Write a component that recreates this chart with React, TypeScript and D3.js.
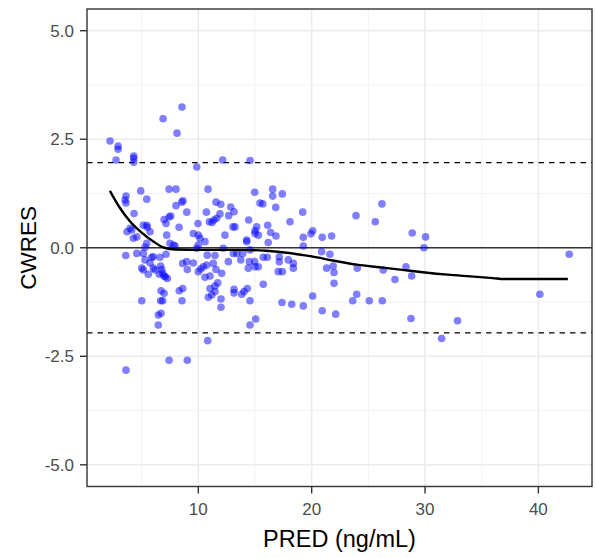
import React from "react";
import * as d3 from "d3";

// Observed data: PRED (ng/mL) and CWRES
const predValues: number[] = [
  2.21, 2.92, 2.92, 2.74, 4.30, 4.30, 4.30, 6.89, 8.56, 8.12, 9.86, 12.15, 14.56, 4.92, 7.42, 8.03, 10.86, 14.97,
  3.62, 3.54, 3.62, 5.45, 8.65, 8.54, 8.03, 8.98, 4.33, 11.56, 11.98, 12.86, 13.15, 10.71, 11.91, 11.62, 11.38,
  7.57, 7.42, 6.98, 9.97, 12.68, 14.44, 5.45, 5.50, 7.15, 10.97, 11.21, 8.30, 13.06, 15.15, 3.98, 15.44,
  3.71, 4.13, 5.15, 5.74, 7.21, 9.56, 10.0, 10.15, 10.59, 12.35, 13.24, 14.27, 14.27, 15.0, 4.27, 4.57, 5.45, 5.30,
  7.80, 7.95, 7.50, 10.0, 9.86, 12.20, 13.09, 3.60, 4.57, 5.15, 6.03, 6.62, 7.15, 5.30, 5.74, 5.89, 5.01, 5.15,
  5.59, 6.03, 6.18, 6.68, 6.77, 6.56, 6.86, 6.98, 7.27, 7.09, 8.62, 8.98, 9.03, 9.56, 10.0, 10.21, 10.44, 10.74,
  10.79, 11.47, 10.59, 11.03, 11.32, 11.56, 12.06, 12.65, 13.39, 13.74, 14.50, 14.97, 14.41, 15.0, 13.92,
  6.71, 6.98, 6.68, 6.86, 8.32, 8.62, 8.56, 11.03, 11.47, 11.47, 11.18, 10.88, 11.71, 12.0, 12.0, 13.15, 13.15,
  13.83, 14.03, 14.32, 14.56, 5.01, 6.47, 6.71, 6.47, 14.56, 15.06, 10.83, 7.42, 9.03, 3.62,
  16.56, 16.56, 17.41, 15.68, 16.83, 19.21, 18.09, 16.12, 15.0, 15.29, 16.38, 16.85, 20.09, 19.94, 19.26, 20.93,
  21.76, 23.91, 26.2, 25.61, 28.87, 16.17, 19.26, 14.56, 15.73, 16.08, 15.29, 17.14, 17.14, 17.94, 18.38, 18.38,
  17.05, 17.41, 20.88, 21.61, 21.32, 21.90, 21.97, 24.02, 26.31, 27.35, 28.32, 28.82, 15.73, 21.97, 17.38, 18.24,
  19.26, 20.09, 23.62, 23.97, 25.08, 26.23, 20.93, 22.12, 28.76, 30.05, 29.90, 42.72, 40.13, 32.87, 31.46,
];

const cwresValues: number[] = [
  2.46, 2.34, 2.27, 2.02, 2.11, 2.06, 1.97, 2.97, 3.24, 2.64, 1.86, 2.02, 2.01, 1.31, 1.35, 1.35, 1.35, 1.28,
  1.19, 1.10, 1.03, 1.12, 1.08, 1.05, 0.97, 0.82, 0.79, 1.05, 1.00, 0.94, 0.83, 0.82, 0.78, 0.68, 0.64,
  0.73, 0.71, 0.65, 0.56, 0.74, 0.64, 0.52, 0.47, 0.56, 0.60, 0.58, 0.47, 0.48, 0.48, 0.45, 1.03,
  0.37, 0.41, 0.52, 0.37, 0.29, 0.33, 0.29, 0.22, 0.14, 0.29, 0.48, 0.18, 0.14, 0.33, 0.22, 0.25, 0.10, 0.01,
  0.06, 0.04, 0.10, 0.06, -0.01, -0.01, -0.13, -0.18, -0.13, -0.13, -0.21, -0.22, -0.15, -0.28, -0.35, -0.22, -0.47, -0.51,
  -0.61, -0.47, -0.51, -0.42, -0.50, -0.61, -0.59, -0.65, -0.71, -0.67, -0.36, -0.32, -0.50, -0.35, -0.55, -0.49, -0.44, -0.40,
  -0.17, -0.18, -0.68, -0.65, -0.36, -0.50, -0.59, -0.32, -0.13, -0.28, -0.32, -0.32, -0.47, -0.44, -0.13,
  -0.99, -1.05, -1.22, -1.22, -0.99, -0.94, -1.22, -0.94, -0.88, -1.01, -1.09, -1.14, -0.81, -1.18, -1.37, -0.96, -1.04,
  -1.07, -1.01, -0.94, -1.22, -1.22, -1.55, -1.51, -1.78, -1.78, -1.64, -2.14, -2.59, -2.59, -2.82,
  1.35, 1.19, 1.24, 1.01, 0.93, 0.82, 0.60, 0.52, 0.39, 0.29, 0.35, 0.27, 0.39, 0.32, 0.24, 0.24,
  0.27, 0.74, 1.01, 0.60, 0.34, 0.12, 0.04, -0.05, -0.22, -0.22, -0.44, -0.21, -0.32, -0.28, -0.36, -0.47,
  -0.55, -0.55, -0.09, -0.15, -0.47, -0.42, -0.57, -0.47, -0.51, -0.73, -0.44, -0.65, -0.84, -0.82, -1.26, -1.30,
  -1.34, -1.11, -1.22, -1.07, -1.22, -1.22, -1.45, -1.53, -1.63, 0.25, 0.0, -0.15, -1.07, -1.68, -2.09,
];

// Smoother (loess trend)
const smoothX: number[] = [2.2, 3.0, 4.0, 5.0, 6.0, 7.0, 8.0, 10, 12, 14, 16, 18, 20, 22, 24, 26, 28, 30, 32, 34, 36, 37, 38, 40, 42.6];
const smoothY: number[] = [1.31, 0.95, 0.6, 0.35, 0.15, 0.0, -0.04, -0.05, -0.05, -0.05, -0.07, -0.12, -0.2, -0.3, -0.39, -0.45, -0.51, -0.57, -0.62, -0.66, -0.7, -0.72, -0.72, -0.72, -0.72];

const xTicks: number[] = [10, 20, 30, 40];
const xMinor: number[] = [5, 15, 25, 35];
const yTicks: number[] = [-5, -2.5, 0, 2.5, 5];
const yTickLabels: string[] = ["-5.0", "-2.5", "0.0", "2.5", "5.0"];
const yMinor: number[] = [-3.75, -1.25, 1.25, 3.75];
const refLines: number[] = [-1.96, 1.96];

const W = 596;
const H = 558;
const left = 87;
const right = 592;
const top = 9;
const bottom = 486.5;
const FONT = "'Liberation Sans', Arial, sans-serif";

export default function App() {
  const x = d3.scaleLinear().domain([0.18, 44.73]).range([left, right]);
  const y = d3.scaleLinear().domain([-5.5, 5.5]).range([bottom, top]);
  const points = predValues.map((p, i) => ({ p, c: cwresValues[i] }));
  const smooth = smoothX.map((sx, i) => [sx, smoothY[i]] as [number, number]);
  const line = d3
    .line<[number, number]>()
    .x((d) => x(d[0]))
    .y((d) => y(d[1]))
    .curve(d3.curveMonotoneX);

  return (
    <svg
      width={W}
      height={H}
      style={{ position: "absolute", left: 0, top: 0, background: "#fff" }}
      fontFamily={FONT}
    >
      <rect x={0} y={0} width={W} height={H} fill="#fff" />
      <g>
        {xMinor.map((t) => (
          <line key={"xm" + t} x1={x(t)} x2={x(t)} y1={top} y2={bottom} stroke="#f2f2f2" strokeWidth={0.9} />
        ))}
        {yMinor.map((t) => (
          <line key={"ym" + t} x1={left} x2={right} y1={y(t)} y2={y(t)} stroke="#f2f2f2" strokeWidth={0.9} />
        ))}
        {xTicks.map((t) => (
          <line key={"xg" + t} x1={x(t)} x2={x(t)} y1={top} y2={bottom} stroke="#ebebeb" strokeWidth={1.5} />
        ))}
        {yTicks.map((t) => (
          <line key={"yg" + t} x1={left} x2={right} y1={y(t)} y2={y(t)} stroke="#ebebeb" strokeWidth={1.5} />
        ))}
      </g>
      <line x1={left} x2={right} y1={y(0)} y2={y(0)} stroke="#333" strokeWidth={1.5} />
      {refLines.map((r) => (
        <line key={"r" + r} x1={left} x2={right} y1={y(r)} y2={y(r)} stroke="#000" strokeWidth={1.4} strokeDasharray="5.5,5" />
      ))}
      <g>
        {points.map((d, i) => (
          <circle key={i} cx={x(d.p)} cy={y(d.c)} r={3.8} fill="rgba(0,0,255,0.5)" />
        ))}
      </g>
      <path d={line(smooth) || ""} fill="none" stroke="#000" strokeWidth={2.4} />
      <rect x={left} y={top} width={right - left} height={bottom - top} fill="none" stroke="#333" strokeWidth={1.4} />
      {yTicks.map((t, i) => (
        <g key={"yt" + t}>
          <line x1={left - 7} x2={left} y1={y(t)} y2={y(t)} stroke="#333" strokeWidth={1.4} />
          <text x={left - 13} y={y(t)} dy="0.36em" textAnchor="end" fontSize={17} fill="#4d4d4d">
            {yTickLabels[i]}
          </text>
        </g>
      ))}
      {xTicks.map((t) => (
        <g key={"xt" + t}>
          <line x1={x(t)} x2={x(t)} y1={bottom} y2={bottom + 7} stroke="#333" strokeWidth={1.4} />
          <text x={x(t)} y={514.5} textAnchor="middle" fontSize={17} fill="#4d4d4d">
            {t}
          </text>
        </g>
      ))}
      <text x={(left + right) / 2} y={547} textAnchor="middle" fontSize={23.5} fill="#000">
        PRED (ng/mL)
      </text>
      <text
        transform={`translate(36, ${(top + bottom) / 2}) rotate(-90)`}
        textAnchor="middle"
        fontSize={22.5}
        fill="#000"
      >
        CWRES
      </text>
    </svg>
  );
}
